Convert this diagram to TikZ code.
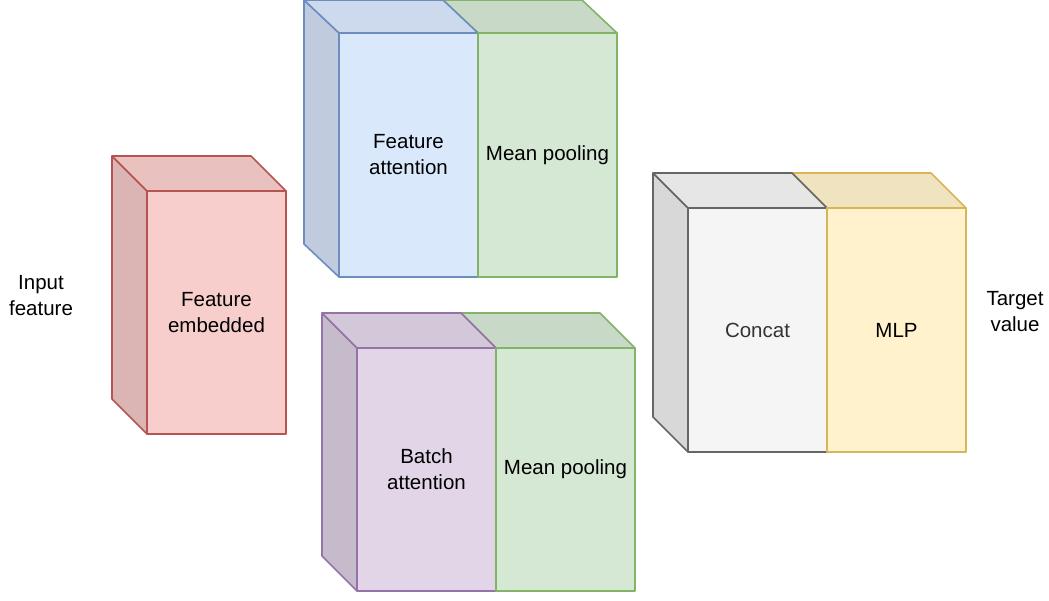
\documentclass[tikz,border=0pt]{standalone}
\usepackage{fontspec}
\setmainfont{Liberation Sans}
\usetikzlibrary{backgrounds}
\definecolor{redF}{HTML}{F8CECC}\definecolor{redS}{HTML}{B85450}
\definecolor{blueF}{HTML}{DAE8FC}\definecolor{blueS}{HTML}{6C8EBF}
\definecolor{greenF}{HTML}{D5E8D4}\definecolor{greenS}{HTML}{82B366}
\definecolor{purpF}{HTML}{E1D5E7}\definecolor{purpS}{HTML}{9673A6}
\definecolor{greyF}{HTML}{F5F5F5}\definecolor{greyS}{HTML}{666666}
\definecolor{yelF}{HTML}{FFF2CC}\definecolor{yelS}{HTML}{D6B656}
\definecolor{txtgrey}{HTML}{333333}
\tikzset{
  frontface/.style 2 args={draw=#2, fill=#1, line width=1.6pt, line join=round,
    inner sep=0pt, outer sep=0pt, minimum width=139pt, minimum height=244pt, anchor=north west,
    align=center, font=\fontsize{20.5}{26}\selectfont},
  topface/.style 2 args={draw=#2, fill=#1!94!black, line width=1.6pt, line join=round},
  sideface/.style 2 args={draw=#2, fill=#1!88!black, line width=1.6pt, line join=round},
  plaintext/.style={align=center, font=\fontsize{20.5}{26}\selectfont, inner sep=0pt}
}
\begin{document}
\begin{tikzpicture}[x=1pt, y=-1pt]
\useasboundingbox (0,0) rectangle (1049,600);

% front faces
\node[frontface={redF}{redS}, minimum height=243pt] (emb) at (147,191) {Feature\\embedded};
\node[frontface={blueF}{blueS}] (fatt) at (339,33) {Feature\\attention};
\node[frontface={greenF}{greenS}] (mp1) at (fatt.north east) {Mean pooling};
\node[frontface={purpF}{purpS}, minimum height=243pt] (batt) at (357,348) {Batch\\attention};
\node[frontface={greenF}{greenS}, minimum height=243pt] (mp2) at (batt.north east) {Mean pooling};
\node[frontface={greyF}{greyS}, text=txtgrey] (cat) at (688,208) {Concat};
\node[frontface={yelF}{yelS}] (mlp) at (cat.north east) {MLP};

\begin{scope}[on background layer]
  \fill[white] (0,0) rectangle (1049,600);
  % red
  \path[sideface={redF}{redS}] (emb.north west) -- ++(-35,-35) -- ++(0,243) -- (emb.south west) -- cycle;
  \path[topface={redF}{redS}] (emb.north west) -- ++(-35,-35) -- ++(139,0) -- (emb.north east) -- cycle;
  % blue + green
  \path[sideface={blueF}{blueS}] (fatt.north west) -- ++(-35,-33) -- ++(0,244) -- (fatt.south west) -- cycle;
  \path[topface={greenF}{greenS}] (mp1.north west) -- ++(-35,-33) -- ++(139,0) -- (mp1.north east) -- cycle;
  \path[topface={blueF}{blueS}] (fatt.north west) -- ++(-35,-33) -- ++(139,0) -- (fatt.north east) -- cycle;
  % purple + green
  \path[sideface={purpF}{purpS}] (batt.north west) -- ++(-35,-35) -- ++(0,243) -- (batt.south west) -- cycle;
  \path[topface={greenF}{greenS}] (mp2.north west) -- ++(-35,-35) -- ++(139,0) -- (mp2.north east) -- cycle;
  \path[topface={purpF}{purpS}] (batt.north west) -- ++(-35,-35) -- ++(139,0) -- (batt.north east) -- cycle;
  % grey + yellow
  \path[sideface={greyF}{greyS}] (cat.north west) -- ++(-35,-35) -- ++(0,244) -- (cat.south west) -- cycle;
  \path[topface={yelF}{yelS}] (mlp.north west) -- ++(-35,-35) -- ++(139,0) -- (mlp.north east) -- cycle;
  \path[topface={greyF}{greyS}] (cat.north west) -- ++(-35,-35) -- ++(139,0) -- (cat.north east) -- cycle;
\end{scope}

\node[plaintext] (inp) at (41,296) {Input\\feature};
\node[plaintext] (tgt) at (1015,312) {Target\\value};
\end{tikzpicture}
\end{document}
